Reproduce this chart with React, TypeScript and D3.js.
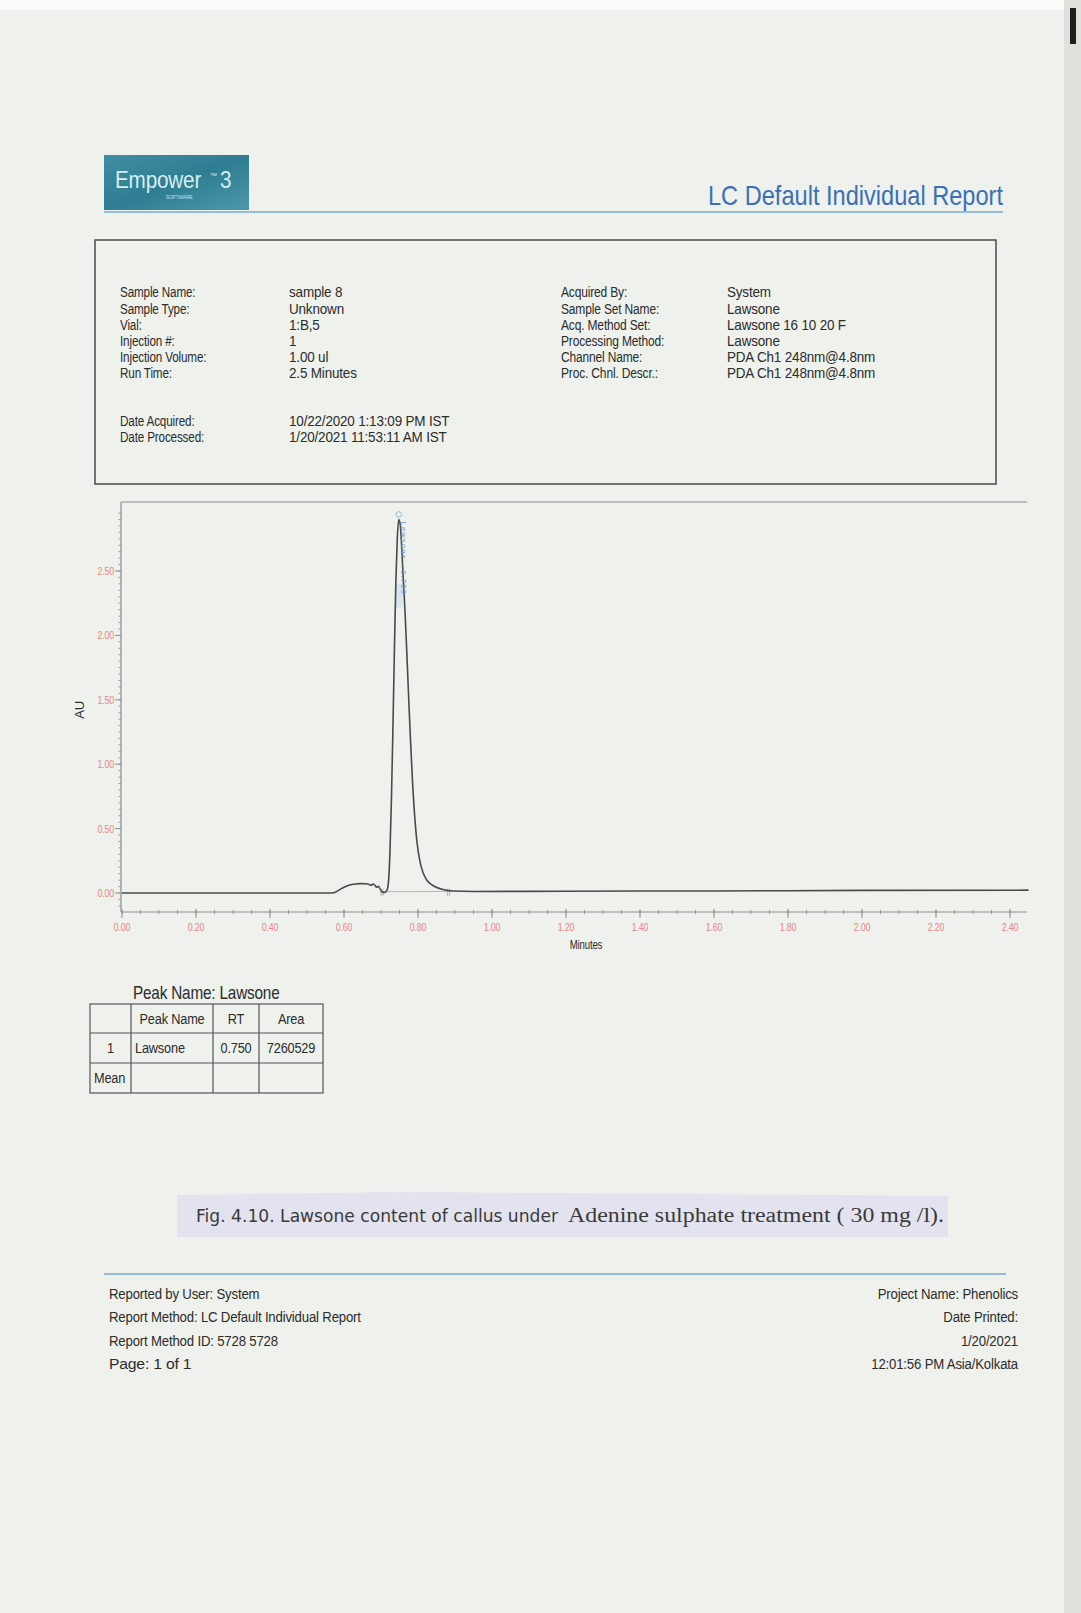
import React from "react";
import * as d3 from "d3";

// ---------- data ----------
const timeMin = [
  0.0, 0.3, 0.56, 0.575, 0.585, 0.6, 0.615, 0.63, 0.645, 0.66, 0.668, 0.673, 0.678, 0.683, 0.688,
  0.693, 0.698, 0.703, 0.71, 0.716, 0.72, 0.724, 0.728, 0.732, 0.736, 0.74, 0.744, 0.748, 0.752,
  0.756, 0.76, 0.765, 0.77, 0.775, 0.78, 0.786, 0.792, 0.797, 0.805, 0.814, 0.825, 0.838, 0.851,
  0.87, 0.895, 0.95, 1.2, 1.6, 2.0, 2.45,
];
const absorbanceAU = [
  0.0, 0.0, 0.0, 0.004, 0.02, 0.045, 0.062, 0.07, 0.073, 0.072, 0.066, 0.058, 0.07, 0.062, 0.045,
  0.052, 0.03, 0.008, 0.004, 0.02, 0.08, 0.3, 0.7, 1.25, 1.85, 2.4, 2.75, 2.9, 2.86,
  2.68, 2.45, 2.18, 1.85, 1.5, 1.17, 0.82, 0.56, 0.4, 0.25, 0.155, 0.095, 0.062, 0.042,
  0.025, 0.015, 0.012, 0.014, 0.016, 0.02, 0.022,
];
const yTickValues = [0, 0.5, 1.0, 1.5, 2.0, 2.5];
const xTickValues = [0, 0.2, 0.4, 0.6, 0.8, 1.0, 1.2, 1.4, 1.6, 1.8, 2.0, 2.2, 2.4];
const peakStartEnd = [0.7, 0.88];
const peakApex = { time: 0.748, au: 2.9, label: "Lawsone - 0.750" };

const infoLeftLabels = ["Sample Name:", "Sample Type:", "Vial:", "Injection #:", "Injection Volume:", "Run Time:"];
const infoLeftValues = ["sample 8", "Unknown", "1:B,5", "1", "1.00 ul", "2.5 Minutes"];
const infoRightLabels = ["Acquired By:", "Sample Set Name:", "Acq. Method Set:", "Processing Method:", "Channel Name:", "Proc. Chnl. Descr.:"];
const infoRightValues = ["System", "Lawsone", "Lawsone 16 10 20 F", "Lawsone", "PDA Ch1 248nm@4.8nm", "PDA Ch1 248nm@4.8nm"];
const dateLabels = ["Date Acquired:", "Date Processed:"];
const dateValues = ["10/22/2020 1:13:09 PM IST", "1/20/2021 11:53:11 AM IST"];

const tableHeader = ["", "Peak Name", "RT", "Area"];
const tableRow1 = ["1", "Lawsone", "0.750", "7260529"];
const tableRow2 = ["Mean", "", "", ""];

const footerLeft = ["Reported by User: System", "Report Method: LC Default Individual Report", "Report Method ID: 5728 5728", "Page: 1 of 1"];
const footerRight = ["Project Name:   Phenolics", "Date Printed:", "1/20/2021", "12:01:56 PM Asia/Kolkata"];

// ---------- helpers ----------
const SANS = "'Liberation Sans', Arial, sans-serif";
const INK = "#2c2c2c";

function NText({ x, y, size = 14, sx = 0.85, anchor = "start", fill = INK, family = SANS, weight = 400, children }: any) {
  return (
    <text
      transform={`translate(${x},${y}) scale(${sx},1)`}
      fontSize={size}
      fontFamily={family}
      textAnchor={anchor}
      fill={fill}
      fontWeight={weight}
      letterSpacing={-0.2}
    >
      {children}
    </text>
  );
}

export default function App() {
  const W = 1081, H = 1613;
  const x = d3.scaleLinear().domain([0, 2.4]).range([122, 1010]);
  const y = d3.scaleLinear().domain([0, 2.5]).range([893, 571]);
  const pts: [number, number][] = timeMin.map((t, i) => [t, absorbanceAU[i]]);
  const line = d3.line<[number, number]>().x((d) => x(d[0])).y((d) => y(d[1])).curve(d3.curveMonotoneX);

  const axisLeft = 121, axisBottom = 912, frameTop = 502, frameRight = 1027;
  const yMinor = d3.range(-0.1, 3.0, 0.05).map((v) => +v.toFixed(2)).filter((v) => y(v) > frameTop + 2 && y(v) < axisBottom - 2);
  const xMinor = d3.range(0, 2.46, 0.05).map((v) => +v.toFixed(2)).filter((v) => x(v) <= frameRight);

  const rowY = [292, 309, 325, 341, 357, 373];
  const dateY = [421, 437];

  const tCols = [90, 131, 213, 259, 323];
  const tRows = [1004, 1033, 1063, 1093];
  const footY = [1299, 1322, 1346, 1369];

  const blStart = pts.find((p) => p[0] >= peakStartEnd[0])!;
  const blEnd = [peakStartEnd[1], 0.012];

  return (
    <svg width={W} height={H} style={{ position: "absolute", left: 0, top: 0, display: "block" }}>
      <defs>
        <linearGradient id="logoG" x1="0" y1="0" x2="1" y2="1">
          <stop offset="0" stopColor="#3f8ea1" />
          <stop offset="0.5" stopColor="#2f7d92" />
          <stop offset="1" stopColor="#4b98aa" />
        </linearGradient>
      </defs>
      {/* paper */}
      <rect x={0} y={0} width={W} height={H} fill="#eef1ec" />
      <rect x={0} y={0} width={W} height={10} fill="#fbfcfa" />
      <rect x={1064} y={0} width={17} height={H} fill="#dfe1dc" />
      <rect x={1070} y={8} width={6} height={36} fill="#1e1e1e" />

      {/* header */}
      <rect x={104} y={155} width={145} height={55} fill="url(#logoG)" />
      <NText x={115} y={188} size={23} sx={0.9} fill="#d6eef3">Empower</NText>
      <NText x={210} y={178} size={7} sx={1} fill="#d6eef3">™</NText>
      <NText x={220} y={188} size={23} sx={0.9} fill="#d6eef3">3</NText>
      <NText x={166} y={199} size={5} sx={1} fill="#bfe0e8">SOFTWARE</NText>
      <line x1={104} x2={1003} y1={212} y2={212} stroke="#7aa6d6" strokeWidth={1.6} />
      <text x={1003} y={205} fontSize={28} fontFamily={SANS} textAnchor="end" fill="#3b70b8" textLength={295} lengthAdjust="spacingAndGlyphs">
        LC Default Individual Report
      </text>

      {/* info box */}
      <rect x={95} y={240} width={901} height={244} fill="none" stroke="#4a4a4a" strokeWidth={1.5} />
      {infoLeftLabels.map((s, i) => (
        <NText key={"ll" + i} x={120} y={rowY[i] + 5} size={15} sx={0.78}>{s}</NText>
      ))}
      {infoLeftValues.map((s, i) => (
        <NText key={"lv" + i} x={289} y={rowY[i] + 5} size={15} sx={0.9}>{s}</NText>
      ))}
      {infoRightLabels.map((s, i) => (
        <NText key={"rl" + i} x={561} y={rowY[i] + 5} size={15} sx={0.8}>{s}</NText>
      ))}
      {infoRightValues.map((s, i) => (
        <NText key={"rv" + i} x={727} y={rowY[i] + 5} size={15} sx={0.9}>{s}</NText>
      ))}
      {dateLabels.map((s, i) => (
        <NText key={"dl" + i} x={120} y={dateY[i] + 5} size={15} sx={0.78}>{s}</NText>
      ))}
      {dateValues.map((s, i) => (
        <NText key={"dv" + i} x={289} y={dateY[i] + 5} size={15} sx={0.9}>{s}</NText>
      ))}

      {/* chart frame */}
      <line x1={axisLeft} x2={frameRight} y1={frameTop} y2={frameTop} stroke="#8d8d8d" strokeWidth={1.2} />
      <line x1={axisLeft} x2={axisLeft} y1={frameTop} y2={axisBottom} stroke="#8d8d8d" strokeWidth={1.2} />
      <line x1={axisLeft} x2={frameRight} y1={axisBottom} y2={axisBottom} stroke="#8d8d8d" strokeWidth={1.2} />
      {yMinor.map((v, i) => (
        <line key={"ym" + i} x1={axisLeft - 2.5} x2={axisLeft} y1={y(v)} y2={y(v)} stroke="#9a9a9a" strokeWidth={1} />
      ))}
      {yTickValues.map((v) => (
        <g key={"yt" + v}>
          <line x1={axisLeft - 6} x2={axisLeft} y1={y(v)} y2={y(v)} stroke="#8d8d8d" strokeWidth={1} />
          <NText x={axisLeft - 7} y={y(v) + 4} size={11} sx={0.8} anchor="end" fill="#ea8585">{v.toFixed(2)}</NText>
        </g>
      ))}
      {xMinor.map((v, i) => (
        <line key={"xm" + i} x1={x(v)} x2={x(v)} y1={axisBottom - 2} y2={axisBottom + 2} stroke="#9a9a9a" strokeWidth={1} />
      ))}
      {xTickValues.map((v) => (
        <g key={"xt" + v}>
          <line x1={x(v)} x2={x(v)} y1={axisBottom - 3} y2={axisBottom + 6} stroke="#8d8d8d" strokeWidth={1} />
          <NText x={x(v)} y={931} size={11} sx={0.8} anchor="middle" fill="#ea8585">{v.toFixed(2)}</NText>
        </g>
      ))}
      <NText x={586} y={949} size={12} sx={0.8} anchor="middle">Minutes</NText>
      <text transform={`translate(84,${y(1.5) + 10}) rotate(-90)`} fontSize={13} fontFamily={SANS} textAnchor="middle" fill={INK}>AU</text>

      {/* integration baseline and markers */}
      <line x1={x(blStart[0])} y1={y(0.01)} x2={x(blEnd[0])} y2={y(blEnd[1])} stroke="#a8a8a8" strokeWidth={0.8} />
      {peakStartEnd.map((t, i) => (
        <g key={"pm" + i}>
          <line x1={x(t)} x2={x(t)} y1={y(0.01) - 3} y2={y(0.01) + 4} stroke="#9a9a9a" strokeWidth={0.8} />
          <line x1={x(t) + 2} x2={x(t) + 2} y1={y(0.01) - 3} y2={y(0.01) + 4} stroke="#9a9a9a" strokeWidth={0.8} />
        </g>
      ))}

      {/* peak label band */}
      <rect x={x(peakApex.time) - 3.5} y={y(peakApex.au) + 64} width={7} height={24} fill="#cfe0f2" opacity={0.8} />

      {/* chromatogram */}
      <path d={line(pts) || ""} fill="none" stroke="#4a4a4a" strokeWidth={1.6} />

      {/* peak label */}
      <circle cx={x(peakApex.time)} cy={y(peakApex.au) - 5} r={2.8} fill="none" stroke="#8fb6e0" strokeWidth={1} />
      <text transform={`translate(${x(peakApex.time) + 2.5},${y(peakApex.au) + 2}) rotate(90)`} fontSize={7.5} fontFamily={SANS} fill="#6b9bd8" letterSpacing={1.2}>
        {peakApex.label}
      </text>

      {/* peak table */}
      <NText x={133} y={999} size={18} sx={0.85}>Peak Name: Lawsone</NText>
      <rect x={tCols[0]} y={tRows[0]} width={tCols[4] - tCols[0]} height={tRows[3] - tRows[0]} fill="none" stroke="#555" strokeWidth={1.2} />
      {tCols.slice(1, 4).map((c, i) => (
        <line key={"tc" + i} x1={c} x2={c} y1={tRows[0]} y2={tRows[3]} stroke="#555" strokeWidth={1.2} />
      ))}
      {tRows.slice(1, 3).map((r, i) => (
        <line key={"tr" + i} x1={tCols[0]} x2={tCols[4]} y1={r} y2={r} stroke="#555" strokeWidth={1.2} />
      ))}
      {[tableHeader, tableRow1, tableRow2].map((row, ri) =>
        row.map((s, ci) => {
          if (!s) return null;
          const cy = (tRows[ri] + tRows[ri + 1]) / 2 + 5;
          const isLeft = (ri === 1 && ci === 1) || (ri === 2 && ci === 0);
          const cx = isLeft ? tCols[ci] + 4 : (tCols[ci] + tCols[ci + 1]) / 2;
          return (
            <NText key={`c${ri}-${ci}`} x={cx} y={cy} size={15} sx={0.85} anchor={isLeft ? "start" : "middle"}>
              {s}
            </NText>
          );
        })
      )}

      {/* caption */}
      <path d="M177,1195 L400,1192 L700,1194 L948,1196 L948,1237 L177,1237 Z" fill="#e3e3ef" />
      <text x={196} y={1222} fontSize={18} fontFamily="'DejaVu Sans', 'Noto Sans', sans-serif" fill="#3a3a3a" textLength={362} lengthAdjust="spacingAndGlyphs">
        Fig. 4.10.  Lawsone content of callus under
      </text>
      <text x={568} y={1222} fontSize={20} fontFamily="'Liberation Serif', 'Times New Roman', serif" fill="#3a3a3a" textLength={376} lengthAdjust="spacingAndGlyphs">
        Adenine sulphate treatment  ( 30 mg /l).
      </text>

      {/* footer */}
      <line x1={104} x2={1006} y1={1274} y2={1274} stroke="#7aa6d6" strokeWidth={1.5} />
      {footerLeft.map((s, i) => (
        <NText key={"fl" + i} x={109} y={footY[i]} size={15} sx={i === 3 ? 1.05 : 0.88}>{s}</NText>
      ))}
      {footerRight.map((s, i) => (
        <NText key={"fr" + i} x={1018} y={footY[i]} size={15} sx={0.88} anchor="end">{s}</NText>
      ))}
    </svg>
  );
}
